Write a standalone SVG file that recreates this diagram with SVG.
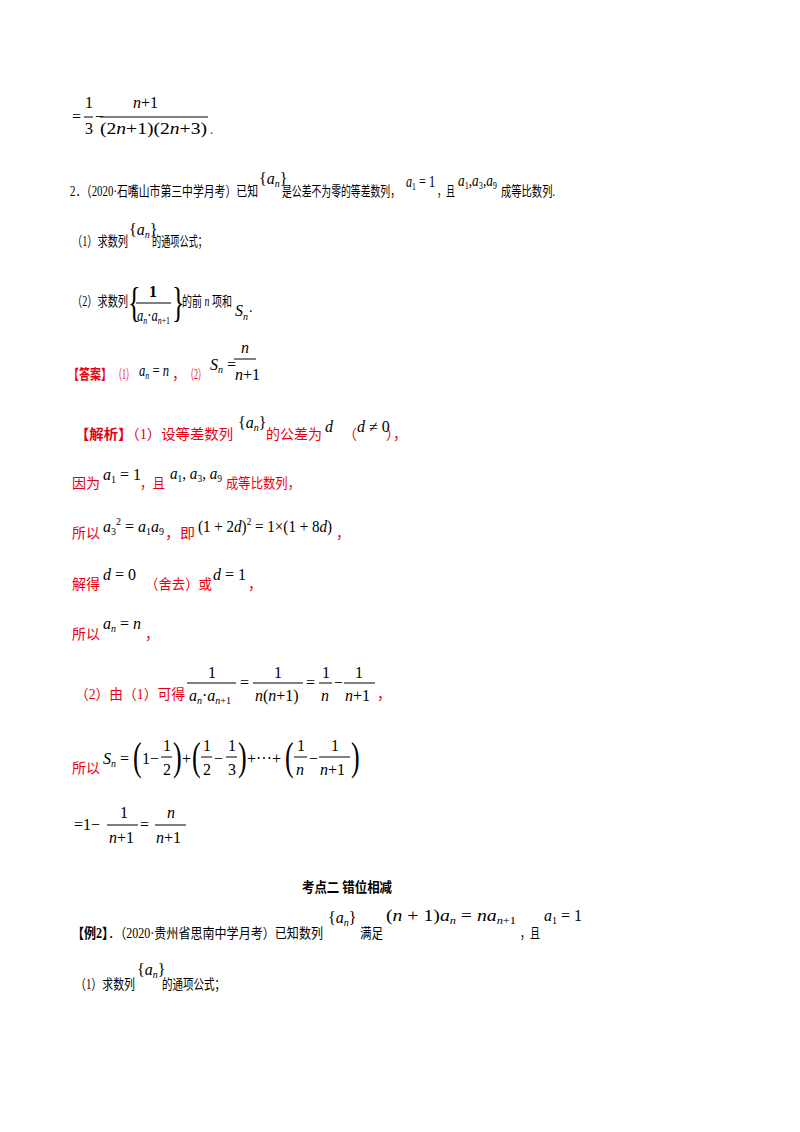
<svg xmlns="http://www.w3.org/2000/svg" width="800" height="1132" viewBox="0 0 800 1132">
<style>
text{font-family:"Liberation Serif","Noto Sans CJK SC",serif;font-size:14px;fill:#000}
.m{font-family:"Liberation Serif",serif;font-size:16px}
.i{font-style:italic}
.s{font-size:10px}
.r{fill:#e60012}
.b{font-weight:bold}
.big{font-size:26px;font-weight:normal}
line{stroke:#000;stroke-width:1}
</style>
<rect width="800" height="1132" fill="#fff"/>
<!-- line 1 -->
<text class="m" x="72" y="122">=</text>
<text class="m" x="85" y="108">1</text><line x1="84" y1="117" x2="93" y2="117"/><text class="m" x="85" y="134">3</text>
<text class="m" x="95" y="122">−</text>
<text class="m" x="133" y="108"><tspan class="i">n</tspan>+1</text><line x1="100" y1="117" x2="208" y2="117"/>
<text class="m" x="100" y="134" textLength="107" lengthAdjust="spacingAndGlyphs">(2<tspan class="i">n</tspan>+1)(2<tspan class="i">n</tspan>+3)</text>
<text class="r" x="210" y="134">.</text>
<!-- line 2 -->
<text x="70" y="196" textLength="188" lengthAdjust="spacingAndGlyphs">2．（2020·石嘴山市第三中学月考）已知</text>
<text class="m" x="259" y="184">{<tspan class="i">a</tspan><tspan class="s i" dy="3">n</tspan><tspan dy="-3">}</tspan></text>
<text x="282" y="196" textLength="118" lengthAdjust="spacingAndGlyphs">是公差不为零的等差数列，</text>
<text class="m" x="406" y="187" textLength="29" lengthAdjust="spacingAndGlyphs"><tspan class="i">a</tspan><tspan class="s" dy="3">1</tspan><tspan dy="-3"> = 1</tspan></text>
<text x="437" y="196" textLength="18" lengthAdjust="spacingAndGlyphs">，且</text>
<text class="m" x="458" y="186" textLength="39" lengthAdjust="spacingAndGlyphs"><tspan class="i">a</tspan><tspan class="s" dy="3">1</tspan><tspan dy="-3">,</tspan><tspan class="i">a</tspan><tspan class="s" dy="3">3</tspan><tspan dy="-3">,</tspan><tspan class="i">a</tspan><tspan class="s" dy="3">9</tspan></text>
<text x="501" y="196" textLength="54" lengthAdjust="spacingAndGlyphs">成等比数列.</text>
<!-- line 3 -->
<text x="72" y="246" textLength="56" lengthAdjust="spacingAndGlyphs">（1）求数列</text>
<text class="m" x="129" y="235">{<tspan class="i">a</tspan><tspan class="s i" dy="3">n</tspan><tspan dy="-3">}</tspan></text>
<text x="152" y="246" textLength="55" lengthAdjust="spacingAndGlyphs">的通项公式；</text>
<!-- line 4 -->
<text x="72" y="306" textLength="56" lengthAdjust="spacingAndGlyphs">（2）求数列</text>
<text class="m big" x="128" y="316" transform="translate(128 316) scale(1 1.6) translate(-128 -316)">{</text>
<text class="m b" x="149" y="297">1</text><line x1="136" y1="303" x2="171" y2="303"/>
<text class="m" x="137" y="321" textLength="33" lengthAdjust="spacingAndGlyphs"><tspan class="i">a</tspan><tspan class="s i" dy="3">n</tspan><tspan dy="-3">·</tspan><tspan class="i">a</tspan><tspan class="s i" dy="3">n</tspan><tspan class="s" dy="0">+1</tspan></text>
<text class="m big" x="172" y="316" transform="translate(172 316) scale(1 1.6) translate(-172 -316)">}</text>
<text x="182" y="306" textLength="50" lengthAdjust="spacingAndGlyphs">的前 <tspan class="i">n</tspan> 项和</text>
<text class="m i" x="235" y="316">S<tspan class="s" dy="4">n</tspan></text>
<text x="249" y="312">.</text>
<!-- answer -->
<text class="r b" x="68" y="379" textLength="44" lengthAdjust="spacingAndGlyphs">【答案】</text>
<text class="r" x="114" y="379" textLength="20" lengthAdjust="spacingAndGlyphs">（1）</text>
<text class="m" x="139" y="376" textLength="30" lengthAdjust="spacingAndGlyphs"><tspan class="i">a</tspan><tspan class="s i" dy="3">n</tspan><tspan dy="-3"> = </tspan><tspan class="i">n</tspan></text>
<text class="r" x="172" y="379">，</text>
<text class="r" x="186" y="379" textLength="20" lengthAdjust="spacingAndGlyphs">（2）</text>
<text class="m" x="210" y="370"><tspan class="i">S</tspan><tspan class="s i" dy="3">n</tspan><tspan dy="-3"> =</tspan></text>
<text class="m i" x="241" y="353">n</text><line x1="234" y1="359" x2="256" y2="359"/>
<text class="m" x="235" y="380"><tspan class="i">n</tspan>+1</text>
<!-- analysis -->
<text class="r" x="75" y="439" textLength="158" lengthAdjust="spacingAndGlyphs"><tspan class="b">【解析】</tspan>（1）设等差数列</text>
<text class="m" x="238" y="428">{<tspan class="i">a</tspan><tspan class="s i" dy="3">n</tspan><tspan dy="-3">}</tspan></text>
<text class="r" x="266" y="439" textLength="56" lengthAdjust="spacingAndGlyphs">的公差为</text>
<text class="m i" x="325" y="432">d</text>
<text class="r" x="343" y="439">（</text><text class="m" x="357" y="432"><tspan class="i">d</tspan> ≠ 0</text><text class="r" x="386" y="439">），</text>

<text class="r" x="72" y="488" textLength="28" lengthAdjust="spacingAndGlyphs">因为</text>
<text class="m" x="103" y="480"><tspan class="i">a</tspan><tspan class="s" dy="3">1</tspan><tspan dy="-3"> = 1</tspan></text>
<text class="r" x="140" y="488" textLength="25" lengthAdjust="spacingAndGlyphs">，且</text>
<text class="m" x="170" y="479" textLength="52" lengthAdjust="spacingAndGlyphs"><tspan class="i">a</tspan><tspan class="s" dy="3">1</tspan><tspan dy="-3">, </tspan><tspan class="i">a</tspan><tspan class="s" dy="3">3</tspan><tspan dy="-3">, </tspan><tspan class="i">a</tspan><tspan class="s" dy="3">9</tspan></text>
<text class="r" x="226" y="488" textLength="74" lengthAdjust="spacingAndGlyphs">成等比数列，</text>

<text class="r" x="72" y="538" textLength="28" lengthAdjust="spacingAndGlyphs">所以</text>
<text class="m" x="103" y="532"><tspan class="i">a</tspan><tspan class="s" dy="3">3</tspan><tspan class="s" dy="-10">2</tspan><tspan dy="7"> = </tspan><tspan class="i">a</tspan><tspan class="s" dy="3">1</tspan><tspan class="i" dy="-3">a</tspan><tspan class="s" dy="3">9</tspan></text>
<text class="r" x="165" y="538" textLength="30" lengthAdjust="spacingAndGlyphs">，即</text>
<text class="m" x="198" y="532" textLength="134" lengthAdjust="spacingAndGlyphs">(1 + 2<tspan class="i">d</tspan>)<tspan class="s" dy="-7">2</tspan><tspan dy="7"> = 1×(1 + 8</tspan><tspan class="i">d</tspan>)</text>
<text class="r" x="336" y="538">，</text>

<text class="r" x="72" y="589" textLength="28" lengthAdjust="spacingAndGlyphs">解得</text>
<text class="m" x="103" y="580"><tspan class="i">d</tspan> = 0</text>
<text class="r" x="145" y="589" textLength="67" lengthAdjust="spacingAndGlyphs">（舍去）或</text>
<text class="m" x="213" y="580"><tspan class="i">d</tspan> = 1</text>
<text class="r" x="248" y="589">，</text>

<text class="r" x="72" y="639" textLength="28" lengthAdjust="spacingAndGlyphs">所以</text>
<text class="m" x="103" y="629"><tspan class="i">a</tspan><tspan class="s i" dy="3">n</tspan><tspan dy="-3"> = </tspan><tspan class="i">n</tspan></text>
<text class="r" x="145" y="639">，</text>

<text class="r" x="75" y="699" textLength="110" lengthAdjust="spacingAndGlyphs">（2）由（1）可得</text>
<text class="m" x="208" y="678">1</text><line x1="187" y1="683" x2="236" y2="683"/>
<text class="m" x="189" y="701"><tspan class="i">a</tspan><tspan class="s i" dy="3">n</tspan><tspan dy="-3">·</tspan><tspan class="i">a</tspan><tspan class="s i" dy="3">n</tspan><tspan class="s">+1</tspan></text>
<text class="m" x="240" y="688">=</text>
<text class="m" x="274" y="678">1</text><line x1="253" y1="683" x2="303" y2="683"/>
<text class="m" x="255" y="701"><tspan class="i">n</tspan>(<tspan class="i">n</tspan>+1)</text>
<text class="m" x="306" y="688">=</text>
<text class="m" x="322" y="678">1</text><line x1="319" y1="683" x2="332" y2="683"/><text class="m i" x="321" y="701">n</text>
<text class="m" x="334" y="688">−</text>
<text class="m" x="355" y="678">1</text><line x1="344" y1="683" x2="375" y2="683"/><text class="m" x="345" y="701"><tspan class="i">n</tspan>+1</text>
<text class="r" x="377" y="699">，</text>

<text class="r" x="72" y="773" textLength="28" lengthAdjust="spacingAndGlyphs">所以</text>
<text class="m" x="103" y="764"><tspan class="i">S</tspan><tspan class="s i" dy="3">n</tspan><tspan dy="-3"> =</tspan></text>
<text class="m big" x="133" y="770" transform="translate(133 770) scale(1 1.5) translate(-133 -770)">(</text>
<text class="m" x="142" y="764">1−</text>
<text class="m" x="163" y="751">1</text><line x1="161" y1="757" x2="172" y2="757"/><text class="m" x="163" y="775">2</text>
<text class="m big" x="173" y="770" transform="translate(173 770) scale(1 1.5) translate(-173 -770)">)</text>
<text class="m" x="182" y="764">+</text>
<text class="m big" x="192" y="770" transform="translate(192 770) scale(1 1.5) translate(-192 -770)">(</text>
<text class="m" x="203" y="751">1</text><line x1="201" y1="757" x2="212" y2="757"/><text class="m" x="203" y="775">2</text>
<text class="m" x="214" y="764">−</text>
<text class="m" x="228" y="751">1</text><line x1="226" y1="757" x2="237" y2="757"/><text class="m" x="228" y="775">3</text>
<text class="m big" x="238" y="770" transform="translate(238 770) scale(1 1.5) translate(-238 -770)">)</text>
<text class="m" x="247" y="764">+···+</text>
<text class="m big" x="285" y="770" transform="translate(285 770) scale(1 1.5) translate(-285 -770)">(</text>
<text class="m" x="297" y="751">1</text><line x1="294" y1="757" x2="307" y2="757"/><text class="m i" x="296" y="775">n</text>
<text class="m" x="309" y="764">−</text>
<text class="m" x="331" y="751">1</text><line x1="319" y1="757" x2="350" y2="757"/><text class="m" x="320" y="775"><tspan class="i">n</tspan>+1</text>
<text class="m big" x="351" y="770" transform="translate(351 770) scale(1 1.5) translate(-351 -770)">)</text>

<text class="m" x="74" y="830">=1−</text>
<text class="m" x="120" y="818">1</text><line x1="107" y1="825" x2="138" y2="825"/><text class="m" x="109" y="843"><tspan class="i">n</tspan>+1</text>
<text class="m" x="140" y="830">=</text>
<text class="m i" x="167" y="818">n</text><line x1="155" y1="825" x2="186" y2="825"/><text class="m" x="156" y="843"><tspan class="i">n</tspan>+1</text>

<!-- section 2 -->
<text class="b" x="302" y="892" textLength="90" lengthAdjust="spacingAndGlyphs">考点二 错位相减</text>
<text x="72" y="938" textLength="251" lengthAdjust="spacingAndGlyphs"><tspan class="b">【例2】</tspan>．（2020·贵州省思南中学月考）已知数列</text>
<text class="m" x="328" y="923">{<tspan class="i">a</tspan><tspan class="s i" dy="3">n</tspan><tspan dy="-3">}</tspan></text>
<text x="360" y="938" textLength="23" lengthAdjust="spacingAndGlyphs">满足</text>
<text class="m" x="386" y="921" textLength="130" lengthAdjust="spacingAndGlyphs">(<tspan class="i">n</tspan> + 1)<tspan class="i">a</tspan><tspan class="s i" dy="3">n</tspan><tspan dy="-3"> = </tspan><tspan class="i">na</tspan><tspan class="s i" dy="3">n</tspan><tspan class="s">+1</tspan></text>
<text x="520" y="938" textLength="20" lengthAdjust="spacingAndGlyphs">，且</text>
<text class="m" x="544" y="921"><tspan class="i">a</tspan><tspan class="s" dy="3">1</tspan><tspan dy="-3"> = 1</tspan></text>
<text x="75" y="989" textLength="60" lengthAdjust="spacingAndGlyphs">（1）求数列</text>
<text class="m" x="137" y="975">{<tspan class="i">a</tspan><tspan class="s i" dy="3">n</tspan><tspan dy="-3">}</tspan></text>
<text x="162" y="989" textLength="63" lengthAdjust="spacingAndGlyphs">的通项公式；</text>
</svg>
